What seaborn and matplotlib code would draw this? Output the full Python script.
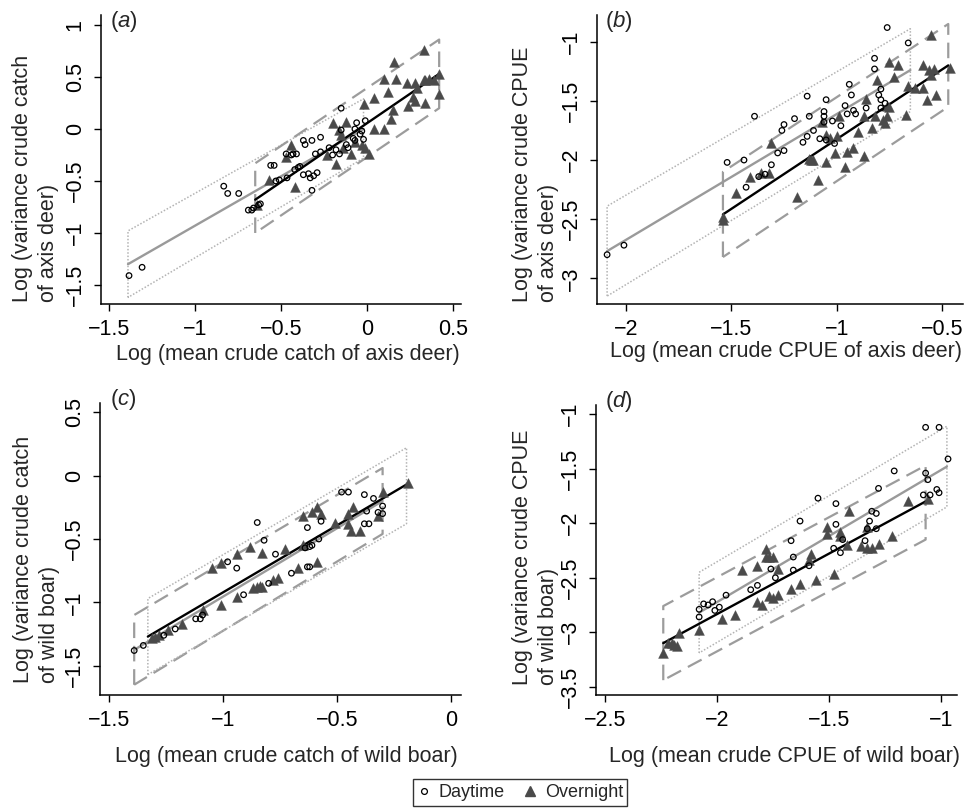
import numpy as np
import pandas as pd
import matplotlib
matplotlib.use("Agg")
import matplotlib.pyplot as plt
import seaborn as sns
from matplotlib.lines import Line2D

# ---------------- data ----------------
# Panel (a): axis deer, crude catch
A_DAY_X = [-1.384, -1.308, -0.833, -0.81, -0.746, -0.69, -0.67, -0.66, -0.63, -0.62, -0.56, -0.54, -0.53, -0.51,
           -0.465, -0.47, -0.44, -0.43, -0.41, -0.42, -0.40, -0.39, -0.37, -0.36, -0.32, -0.37, -0.34, -0.33,
           -0.31, -0.29, -0.32, -0.30, -0.27, -0.27, -0.22, -0.20, -0.18, -0.16, -0.15, -0.15, -0.12, -0.11,
           -0.08, -0.07, -0.07, -0.06, -0.04, -0.03, -0.02, -0.01]
A_DAY_Y = [-1.41, -1.33, -0.55, -0.62, -0.62, -0.78, -0.78, -0.76, -0.73, -0.72, -0.35, -0.35, -0.50, -0.49,
           -0.47, -0.24, -0.25, -0.24, -0.24, -0.39, -0.37, -0.36, -0.11, -0.15, -0.11, -0.44, -0.43, -0.47,
           -0.45, -0.42, -0.59, -0.24, -0.22, -0.08, -0.18, -0.25, -0.20, -0.24, -0.01, 0.20, -0.15, -0.18,
           -0.09, -0.11, 0.00, 0.06, -0.05, -0.02, -0.10, 0.08]
A_NIGHT_X = [-0.57, -0.47, -0.44, -0.42, -0.23, -0.18, -0.20, -0.16, -0.15, -0.14, -0.12, -0.09, -0.07, -0.02,
             -0.03, -0.01, 0.01, 0.04, 0.04, 0.10, 0.10, 0.12, 0.14, 0.16, 0.17, 0.15, 0.23, 0.24, 0.28, 0.29,
             0.27, 0.28, 0.33, 0.34, 0.36, 0.34, 0.33, 0.39, 0.42, 0.42, -0.64]
A_NIGHT_Y = [-0.49, -0.27, -0.15, -0.56, -0.25, -0.34, 0.06, -0.01, -0.06, -0.18, 0.07, -0.24, -0.13, 0.24,
             -0.15, -0.18, -0.24, 0.30, 0.00, 0.00, 0.48, 0.36, 0.10, 0.64, 0.48, 0.18, 0.44, 0.22, 0.44, 0.39,
             0.31, 0.27, 0.47, 0.47, 0.48, 0.25, 0.76, 0.47, 0.53, 0.34, -0.73]
A_DAY_FIT_X = [-1.39, -0.02]
A_DAY_FIT_Y = [-1.30, 0.00]
A_DAY_PI_LO = [-1.62, -0.28]
A_DAY_PI_HI = [-0.98, 0.29]
A_NIGHT_FIT_X = [-0.65, 0.42]
A_NIGHT_FIT_Y = [-0.68, 0.53]
A_NIGHT_PI_LO = [-1.00, 0.20]
A_NIGHT_PI_HI = [-0.33, 0.86]

# Panel (b): axis deer, crude CPUE
B_DAY_X = [-2.09, -2.01, -1.52, -1.44, -1.43, -1.39, -1.37, -1.31, -1.34, -1.28, -1.26, -1.25, -1.25, -1.20,
           -1.16, -1.14, -1.14, -1.13, -1.11, -1.08, -1.06, -1.06, -1.06, -1.05, -1.05, -1.02, -1.01, -0.98,
           -0.96, -0.95, -0.94, -0.93, -0.92, -0.91, -0.86, -0.82, -0.82, -0.80, -0.79, -0.79, -0.79, -0.77,
           -0.76, -0.66]
B_DAY_Y = [-2.80, -2.72, -2.02, -2.00, -2.23, -1.63, -2.14, -2.04, -2.12, -1.94, -1.75, -1.70, -1.92, -1.65,
           -1.85, -1.80, -1.46, -1.63, -1.75, -1.82, -1.59, -1.63, -1.68, -1.49, -1.83, -1.67, -1.86, -1.71,
           -1.54, -1.61, -1.36, -1.45, -1.58, -1.61, -1.56, -1.14, -1.23, -1.45, -1.40, -1.49, -1.56, -1.52,
           -0.88, -1.01]
B_NIGHT_X = [-1.54, -1.54, -1.48, -1.41, -1.36, -1.31, -1.32, -1.19, -1.13, -1.12, -1.11, -1.09, -1.07, -1.05,
             -1.05, -1.03, -1.01, -1.00, -0.99, -0.96, -0.95, -0.92, -0.90, -0.87, -0.86, -0.87, -0.83, -0.82,
             -0.81, -0.75, -0.78, -0.77, -0.76, -0.76, -0.75, -0.73, -0.71, -0.67, -0.66, -0.63, -0.59, -0.59,
             -0.57, -0.56, -0.55, -0.54, -0.55, -0.53, -0.46]
B_NIGHT_Y = [-2.48, -2.51, -2.28, -2.14, -2.11, -1.86, -2.11, -2.31, -1.99, -2.00, -2.00, -2.17, -1.68, -2.02,
             -1.79, -1.81, -1.94, -1.80, -1.63, -2.06, -1.93, -1.90, -1.76, -1.97, -1.48, -1.63, -1.73, -1.63,
             -1.32, -1.17, -1.66, -1.69, -1.63, -1.54, -1.55, -1.30, -1.20, -1.62, -1.37, -1.39, -1.20, -1.39,
             -1.49, -1.24, -1.28, -1.23, -0.94, -1.45, -1.22]
B_DAY_FIT_X = [-2.09, -0.65]
B_DAY_FIT_Y = [-2.77, -1.24]
B_DAY_PI_LO = [-3.15, -1.59]
B_DAY_PI_HI = [-2.39, -0.89]
B_NIGHT_FIT_X = [-1.54, -0.47]
B_NIGHT_FIT_Y = [-2.46, -1.20]
B_NIGHT_PI_LO = [-2.82, -1.55]
B_NIGHT_PI_HI = [-2.10, -0.85]

# Panel (c): wild boar, crude catch
C_DAY_X = [-1.39, -1.35, -1.26, -1.21, -1.12, -1.10, -1.09, -0.98, -0.94, -0.91, -0.85, -0.82, -0.80, -0.77,
           -0.70, -0.64, -0.62, -0.61, -0.63, -0.63, -0.62, -0.58, -0.57, -0.48, -0.45, -0.38, -0.38, -0.36,
           -0.37, -0.34, -0.32, -0.30, -0.30]
C_DAY_Y = [-1.38, -1.34, -1.26, -1.21, -1.13, -1.13, -1.10, -0.68, -0.73, -0.94, -0.37, -0.51, -0.85, -0.62,
           -0.77, -0.57, -0.56, -0.55, -0.41, -0.72, -0.72, -0.50, -0.36, -0.13, -0.13, -0.15, -0.38, -0.38,
           -0.28, -0.18, -0.29, -0.30, -0.24]
C_NIGHT_X = [-1.31, -1.30, -1.28, -1.24, -1.18, -1.09, -1.05, -1.01, -1.01, -0.94, -0.94, -0.88, -0.87, -0.85,
             -0.84, -0.83, -0.83, -0.78, -0.76, -0.73, -0.67, -0.65, -0.65, -0.61, -0.59, -0.57, -0.59, -0.51,
             -0.45, -0.45, -0.44, -0.43, -0.40, -0.32, -0.30, -0.19]
C_NIGHT_Y = [-1.28, -1.27, -1.26, -1.22, -1.17, -1.06, -0.73, -0.69, -1.02, -0.62, -0.96, -0.56, -0.89, -0.88,
             -0.87, -0.88, -0.61, -0.82, -0.81, -0.58, -0.73, -0.32, -0.55, -0.29, -0.25, -0.30, -0.68, -0.37,
             -0.30, -0.38, -0.44, -0.25, -0.44, -0.32, -0.13, -0.06]
C_DAY_FIT_X = [-1.39, -0.30]
C_DAY_FIT_Y = [-1.375, -0.20]
C_DAY_PI_LO = [-1.65, -0.46]
C_DAY_PI_HI = [-1.10, 0.06]
C_NIGHT_FIT_X = [-1.33, -0.195]
C_NIGHT_FIT_Y = [-1.27, -0.07]
C_NIGHT_PI_LO = [-1.57, -0.38]
C_NIGHT_PI_HI = [-0.97, 0.22]

# Panel (d): wild boar, crude CPUE
D_DAY_X = [-2.08, -2.08, -2.06, -2.04, -2.02, -2.01, -1.99, -1.96, -1.85, -1.82, -1.76, -1.74, -1.67, -1.66,
           -1.66, -1.63, -1.59, -1.55, -1.47, -1.47, -1.48, -1.45, -1.44, -1.34, -1.33, -1.32, -1.31, -1.29,
           -1.29, -1.28, -1.21, -1.08, -1.07, -1.07, -1.06, -1.05, -1.02, -1.01, -1.01, -0.97]
D_DAY_Y = [-2.86, -2.79, -2.74, -2.75, -2.72, -2.80, -2.77, -2.66, -2.61, -2.57, -2.42, -2.50, -2.16, -2.31,
           -2.43, -1.98, -2.39, -1.77, -1.82, -2.01, -2.23, -2.27, -2.15, -2.16, -2.05, -1.98, -1.89, -1.91,
           -2.05, -1.68, -1.52, -1.74, -1.12, -1.54, -1.60, -1.74, -1.69, -1.72, -1.12, -1.41]
D_NIGHT_X = [-2.24, -2.22, -2.20, -2.19, -2.18, -2.17, -2.08, -1.98, -1.92, -1.89, -1.82, -1.82, -1.80, -1.78,
             -1.78, -1.77, -1.75, -1.77, -1.75, -1.73, -1.73, -1.67, -1.63, -1.58, -1.59, -1.56, -1.51, -1.51,
             -1.48, -1.45, -1.45, -1.42, -1.41, -1.36, -1.33, -1.33, -1.31, -1.28, -1.22, -1.15, -1.06]
D_NIGHT_Y = [-3.19, -3.10, -3.10, -3.12, -3.13, -3.01, -2.98, -2.88, -2.84, -2.43, -2.39, -2.72, -2.75, -2.24,
             -2.31, -2.31, -2.31, -2.67, -2.69, -2.66, -2.42, -2.60, -2.56, -2.28, -2.34, -2.52, -2.03, -2.10,
             -2.47, -2.08, -2.12, -2.20, -1.89, -2.21, -2.03, -2.23, -2.23, -2.19, -2.12, -1.80, -1.78]
D_DAY_FIT_X = [-2.08, -0.975]
D_DAY_FIT_Y = [-2.82, -1.48]
D_DAY_PI_LO = [-3.19, -1.85]
D_DAY_PI_HI = [-2.45, -1.11]
D_NIGHT_FIT_X = [-2.24, -1.07]
D_NIGHT_FIT_Y = [-3.10, -1.80]
D_NIGHT_PI_LO = [-3.44, -2.15]
D_NIGHT_PI_HI = [-2.76, -1.47]

A_XTICKS = [-1.5, -1, -0.5, 0, 0.5]
A_YTICKS = [-1.5, -1, -0.5, 0, 0.5, 1]
B_XTICKS = [-2, -1.5, -1, -0.5]
B_YTICKS = [-3, -2.5, -2, -1.5, -1]
C_XTICKS = [-1.5, -1, -0.5, 0]
C_YTICKS = [-1.5, -1, -0.5, 0, 0.5]
D_XTICKS = [-2.5, -2, -1.5, -1]
D_YTICKS = [-3.5, -3, -2.5, -2, -1.5, -1]

PANEL_LETTERS = ["a", "b", "c", "d"]
X_LABELS = ["Log (mean crude catch of axis deer)", "Log (mean crude CPUE of axis deer)",
            "Log (mean crude catch of wild boar)", "Log (mean crude CPUE of wild boar)"]
Y_LABELS = ["Log (variance crude catch\nof axis deer)", "Log (variance crude CPUE\nof axis deer)",
            "Log (variance crude catch\nof wild boar)", "Log (variance crude CPUE\nof wild boar)"]
SERIES = ["Daytime", "Overnight"]

# ---------------- style / layout ----------------
sns.set_style("ticks")
plt.rcParams["font.family"] = ["Liberation Sans", "DejaVu Sans"]
plt.rcParams["mathtext.fontset"] = "custom"
plt.rcParams["mathtext.rm"] = "Liberation Sans"
plt.rcParams["mathtext.it"] = "Liberation Sans:italic"
plt.rcParams["axes.unicode_minus"] = True

W, H = 965, 808
fig = plt.figure(figsize=(W / 100, H / 100), dpi=100)
fig.patch.set_facecolor("white")


def fx(px):
    return px / W


def fy(py):
    return 1 - py / H


def fmt(v):
    return f"{v:g}".replace("-", "\u2212")


DOT = dict(color="#b3b3b3", lw=1.1, ls=(0, (1, 1.2)))
DASH = dict(color="#9c9c9c", lw=1.6, ls=(0, (7, 3.5)))
DAY_LINE = dict(color="#9a9a9a", lw=1.7)
NIGHT_LINE = dict(color="black", lw=1.7)

panels = [
    dict(box=(101, 461, 15, 304), xlim=(-1.547, 0.547), ylim=(-1.683, 1.096), xt=A_XTICKS, yt=A_YTICKS,
         dx=A_DAY_X, dy=A_DAY_Y, nx=A_NIGHT_X, ny=A_NIGHT_Y,
         dfx=A_DAY_FIT_X, dfy=A_DAY_FIT_Y, dlo=A_DAY_PI_LO, dhi=A_DAY_PI_HI,
         nfx=A_NIGHT_FIT_X, nfy=A_NIGHT_FIT_Y, nlo=A_NIGHT_PI_LO, nhi=A_NIGHT_PI_HI,
         dband=DOT, nband=DASH, letter=(110, 21), ylab=(12, 302), xlab=(460, 344)),
    dict(box=(597, 963, 15, 304), xlim=(-2.138, -0.40), ylim=(-3.217, -0.774), xt=B_XTICKS, yt=B_YTICKS,
         dx=B_DAY_X, dy=B_DAY_Y, nx=B_NIGHT_X, ny=B_NIGHT_Y,
         dfx=B_DAY_FIT_X, dfy=B_DAY_FIT_Y, dlo=B_DAY_PI_LO, dhi=B_DAY_PI_HI,
         nfx=B_NIGHT_FIT_X, nfy=B_NIGHT_FIT_Y, nlo=B_NIGHT_PI_LO, nhi=B_NIGHT_PI_HI,
         dband=DOT, nband=DASH, letter=(605, 22), ylab=(512, 302), xlab=(962, 341)),
    dict(box=(100, 461, 403, 695), xlim=(-1.54, 0.044), ylim=(-1.731, 0.573), xt=C_XTICKS, yt=C_YTICKS,
         dx=C_DAY_X, dy=C_DAY_Y, nx=C_NIGHT_X, ny=C_NIGHT_Y,
         dfx=C_DAY_FIT_X, dfy=C_DAY_FIT_Y, dlo=C_DAY_PI_LO, dhi=C_DAY_PI_HI,
         nfx=C_NIGHT_FIT_X, nfy=C_NIGHT_FIT_Y, nlo=C_NIGHT_PI_LO, nhi=C_NIGHT_PI_HI,
         dband=DASH, nband=DOT, letter=(110, 400), ylab=(13, 683), xlab=(458, 746)),
    dict(box=(596, 957, 405, 695), xlim=(-2.54, -0.93), ylim=(-3.576, -0.915), xt=D_XTICKS, yt=D_YTICKS,
         dx=D_DAY_X, dy=D_DAY_Y, nx=D_NIGHT_X, ny=D_NIGHT_Y,
         dfx=D_DAY_FIT_X, dfy=D_DAY_FIT_Y, dlo=D_DAY_PI_LO, dhi=D_DAY_PI_HI,
         nfx=D_NIGHT_FIT_X, nfy=D_NIGHT_FIT_Y, nlo=D_NIGHT_PI_LO, nhi=D_NIGHT_PI_HI,
         dband=DOT, nband=DASH, letter=(605, 401), ylab=(512, 685), xlab=(960, 746)),
]


def band(ax, fx_, lo, hi, style):
    bx = [fx_[0], fx_[0], fx_[1], fx_[1], fx_[0]]
    by = [lo[0], hi[0], hi[1], lo[1], lo[0]]
    ax.plot(bx, by, zorder=1, solid_capstyle="butt", **style)


for i, p in enumerate(panels):
    x0, x1, top, bottom = p["box"]
    ax = fig.add_axes([fx(x0), fy(bottom), fx(x1) - fx(x0), fy(top) - fy(bottom)])
    ax.set_facecolor("white")

    band(ax, p["dfx"], p["dlo"], p["dhi"], p["dband"])
    band(ax, p["nfx"], p["nlo"], p["nhi"], p["nband"])
    ax.plot(p["dfx"], p["dfy"], zorder=2, **DAY_LINE)
    ax.plot(p["nfx"], p["nfy"], zorder=2.5, **NIGHT_LINE)

    ddf = pd.DataFrame({"x": p["dx"], "y": p["dy"]})
    ndf = pd.DataFrame({"x": p["nx"], "y": p["ny"]})
    sns.scatterplot(data=ndf, x="x", y="y", ax=ax, marker="^", s=50, color="#4a4a4a",
                    edgecolor="#4a4a4a", linewidth=0.3, zorder=3, legend=False)
    sns.scatterplot(data=ddf, x="x", y="y", ax=ax, marker="o", s=16, facecolor="none",
                    edgecolor="black", linewidth=0.9, zorder=4, legend=False)

    ax.set_xlim(*p["xlim"])
    ax.set_ylim(*p["ylim"])
    ax.set_xticks(p["xt"])
    ax.set_xticklabels([fmt(v) for v in p["xt"]])
    ax.set_yticks(p["yt"])
    ax.set_yticklabels([fmt(v) for v in p["yt"]], rotation=90, va="center", ha="right")
    ax.set_xlabel("")
    ax.set_ylabel("")
    sns.despine(ax=ax)
    for s in ["left", "bottom"]:
        ax.spines[s].set_color("black")
        ax.spines[s].set_linewidth(1.1)
    ax.tick_params(length=5, width=1.0, color="black", labelsize=15.5, labelcolor="black")
    ax.tick_params(axis="x", pad=6)
    ax.tick_params(axis="y", pad=6)

    fig.text(fx(p["letter"][0]), fy(p["letter"][1]), r"($\mathit{%s}$)" % PANEL_LETTERS[i],
             fontsize=16, ha="left", va="center")
    fig.text(fx(p["ylab"][0]), fy(p["ylab"][1]), Y_LABELS[i], rotation=90, rotation_mode="anchor",
             ha="left", va="top", multialignment="left", fontsize=15.5, linespacing=1.3)
    fig.text(fx(p["xlab"][0]), fy(p["xlab"][1]), X_LABELS[i], ha="right", va="top", fontsize=15.5)

handles = [
    Line2D([], [], ls="", marker="o", mfc="none", mec="black", mew=0.9, ms=4.2, label=SERIES[0]),
    Line2D([], [], ls="", marker="^", mfc="#4a4a4a", mec="#4a4a4a", ms=7, label=SERIES[1]),
]
leg = fig.legend(handles=handles, loc="center", bbox_to_anchor=(fx(520), fy(792.5)), ncol=2,
                 frameon=True, fancybox=False, edgecolor="black", fontsize=13, handlelength=0.8,
                 handletextpad=0.4, columnspacing=1.0, borderpad=0.25, borderaxespad=0)
leg.get_frame().set_linewidth(1.0)

fig.savefig("out.png", dpi=100, facecolor="white")
